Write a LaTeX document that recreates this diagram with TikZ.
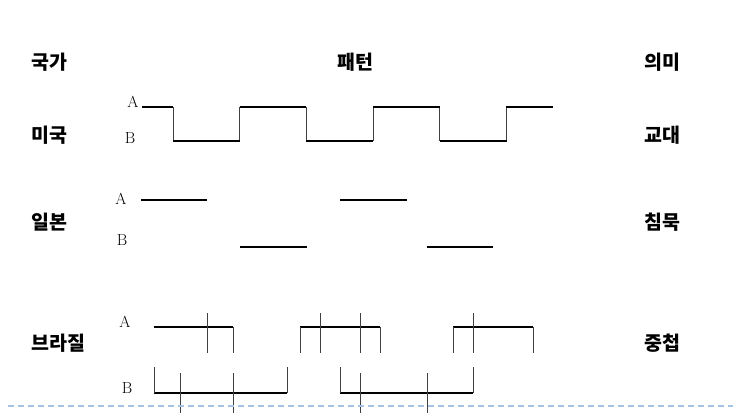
\documentclass[tikz,border=0pt]{standalone}
\usepackage{fontspec}
\newfontfamily\krfont{Noto Sans CJK KR}
\usetikzlibrary{positioning}

\definecolor{guideblue}{RGB}{165,195,228}

\tikzset{
  kr/.style={font=\krfont\bfseries\fontsize{19.5}{21}\selectfont, anchor=west},
  ab/.style={font=\fontsize{16}{18}\selectfont},
  level/.style={line width=1.8pt, black},
  edge/.style={line width=0.9pt, black!75},
  grid/.style={line width=1.2pt, dash pattern=on 6pt off 4pt, guideblue}
}

\begin{document}
\begin{tikzpicture}[x=1pt, y=-1pt]
  \useasboundingbox (0,0) rectangle (733,416);

  %header
  \node[kr] (country) at (28,62) {국가};
  \node[kr, anchor=center] (pattern) at (355,62) {패턴};
  \node[kr] (meaning) at (641,62) {의미};

  %rows
  \foreach \y/\left/\right/\name in {135/미국/교대/us, 222/일본/침묵/jp, 343/브라질/중첩/br}{
      \node[kr] (\name L) at (28,\y) {\left};
      \node[kr] (\name R) at (641,\y) {\right};
  }

  %usa: alternating
  \def\d{66.7};
  \node[ab] (usA) at (133,102) {A};
  \node[ab] (usB) at (130,138) {B};
  \draw[level] (142,107) -- (173,107);
  \foreach \i in {0,1,2,3,4,5}{
      \draw[edge] (173+\i*\d,107) -- (173+\i*\d,141);
  }
  \foreach \i in {0,2,4}{
      \draw[level] (173+\i*\d,141) -- (173+\i*\d+\d,141);
  }
  \foreach \i in {1,3}{
      \draw[level] (173+\i*\d,107) -- (173+\i*\d+\d,107);
  }
  \draw[level] (506,107) -- (553,107);

  %japan: silence
  \node[ab] (jpA) at (121,199) {A};
  \node[ab] (jpB) at (122,240) {B};
  \foreach \a/\b/\y in {141/207/200, 340/407/200, 240/307/247, 427/493/247}{
      \draw[level] (\a,\y) -- (\b,\y);
  }

  %brazil: overlap
  \node[ab] (brA) at (125,322) {A};
  \node[ab] (brB) at (127,388) {B};
  \draw[level] (154,327) -- (233,327);
  \foreach \a/\b in {300/380, 453/533}{
      \draw[level] (\a,327) -- (\b,327);
      \draw[edge] (\a,327) -- (\a,353);
  }
  \foreach \x in {233,380,533}{
      \draw[edge] (\x,327) -- (\x,353);
  }
  \foreach \x in {207,320,360,473}{
      \draw[edge] (\x,313) -- (\x,353);
  }
  \foreach \a/\b in {154/287, 340/473}{
      \draw[level] (\a,393) -- (\b,393);
      \draw[edge] (\a,367) -- (\a,393);
      \draw[edge] (\b,367) -- (\b,393);
  }
  \foreach \x in {180,233,360,427}{
      \draw[edge] (\x,373) -- (\x,413);
  }

  %dotted guide
  \draw[grid] (8,406) -- (733,406);

\end{tikzpicture}
\end{document}
